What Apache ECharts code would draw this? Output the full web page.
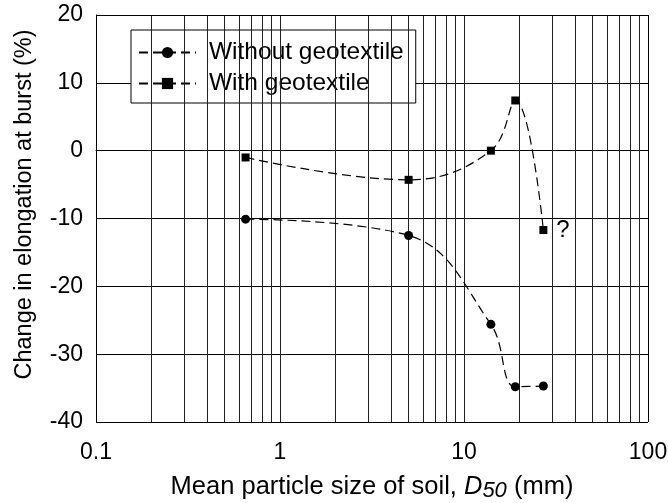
<!DOCTYPE html>
<html><head><meta charset="utf-8">
<script src="https://cdn.jsdelivr.net/npm/echarts@6/dist/echarts.min.js"></script>
<style>html,body{margin:0;padding:0;background:#fff}#c{width:668px;height:503px}</style>
</head><body><div id="c"></div>
<script>
const xWithout = [0.65, 5, 14, 19, 27];
const yWithout = [-10.1, -12.5, -25.6, -34.8, -34.7];
const xWith = [0.65, 5, 14, 19, 27];
const yWith = [-1.0, -4.3, 0.0, 7.4, -11.7];
const xGridMinor = [0.2,0.3,0.4,0.5,0.6,0.7,0.8,0.9,1,2,3,4,5,6,7,8,9,10,20,30,40,50,60,70,80,90];
const seriesNames = ['Without geotextile', 'With geotextile'];

const font = 'Liberation Sans, Arial, sans-serif';
const chart = echarts.init(document.getElementById('c'), null, {renderer:'canvas'});
const dash = [9,5];
const withData = xWith.map((x,i)=>{
  const d = {value:[x,yWith[i]]};
  if (i === xWith.length-1) d.label = {show:true, formatter:'?', position:'right', distance:9, color:'#000', fontSize:24, fontFamily:font};
  return d;
});
chart.setOption({
  animation:false,
  backgroundColor:'#fff',
  grid:{left:96, right:20, top:15, bottom:81, containLabel:false, outerBoundsMode:'none'},
  legend:{
    orient:'vertical', left:131, top:30,
    padding:[10,12,7,7], itemWidth:57, itemHeight:14, itemGap:6,
    backgroundColor:'#fff', borderColor:'#000', borderWidth:1,
    textStyle:{fontSize:24.5, fontFamily:font, color:'#000', padding:[0,6,0,8]},
    data:seriesNames
  },
  xAxis:{
    type:'log', min:0.1, max:100, logBase:10,
    name:'{n|Mean particle size of soil, }{i|D}{s|50}{n| (mm)}',
    nameLocation:'middle', nameGap:50,
    nameTextStyle:{rich:{
      n:{fontSize:25.5, fontFamily:font, color:'#000'},
      i:{fontSize:25.5, fontFamily:font, color:'#000', fontStyle:'italic'},
      s:{fontSize:22, fontFamily:font, color:'#000', fontStyle:'italic', padding:[8,0,0,0]}
    }},
    axisLine:{lineStyle:{color:'#000', width:1}},
    axisTick:{show:true, inside:true, length:8, lineStyle:{color:'#000'}},
    axisLabel:{fontSize:23, fontFamily:font, color:'#000', margin:19},
    splitLine:{show:false}
  },
  yAxis:{
    type:'value', min:-40, max:20, interval:10,
    name:'Change in elongation at burst (%)',
    nameLocation:'middle', nameGap:59,
    nameTextStyle:{fontSize:23.5, fontFamily:font, color:'#000', padding:[0,0,0,28]},
    axisLine:{show:true, lineStyle:{color:'#000', width:1}},
    axisTick:{show:true, inside:true, length:7, lineStyle:{color:'#000'}},
    axisLabel:{fontSize:23, fontFamily:font, color:'#000', margin:13},
    splitLine:{show:true, lineStyle:{color:'#000', width:1}}
  },
  series:[
    {
      name:seriesNames[0], type:'line', smooth:0.4,
      data:xWithout.map((x,i)=>[x,yWithout[i]]),
      symbol:'circle', symbolSize:9,
      itemStyle:{color:'#000'},
      lineStyle:{color:'#000', width:1.2, type:dash},
      z:5
    },
    {
      name:seriesNames[1], type:'line', smooth:0.4,
      data:withData,
      symbol:'rect', symbolSize:8,
      itemStyle:{color:'#000'},
      lineStyle:{color:'#000', width:1.2, type:dash},
      z:5
    },
    {
      type:'line', data:[], silent:true, z:1,
      markLine:{
        silent:true, symbol:'none', label:{show:false},
        lineStyle:{color:'#222', width:1, type:'solid'},
        data:xGridMinor.map(v=>({xAxis:v}))
      }
    },
    {
      type:'line', data:[], silent:true, z:1,
      markLine:{
        silent:true, symbol:'none', label:{show:false},
        lineStyle:{color:'#000', width:1, type:'solid'},
        data:[{xAxis:100},{yAxis:20}]
      }
    }
  ]
});
</script></body></html>
